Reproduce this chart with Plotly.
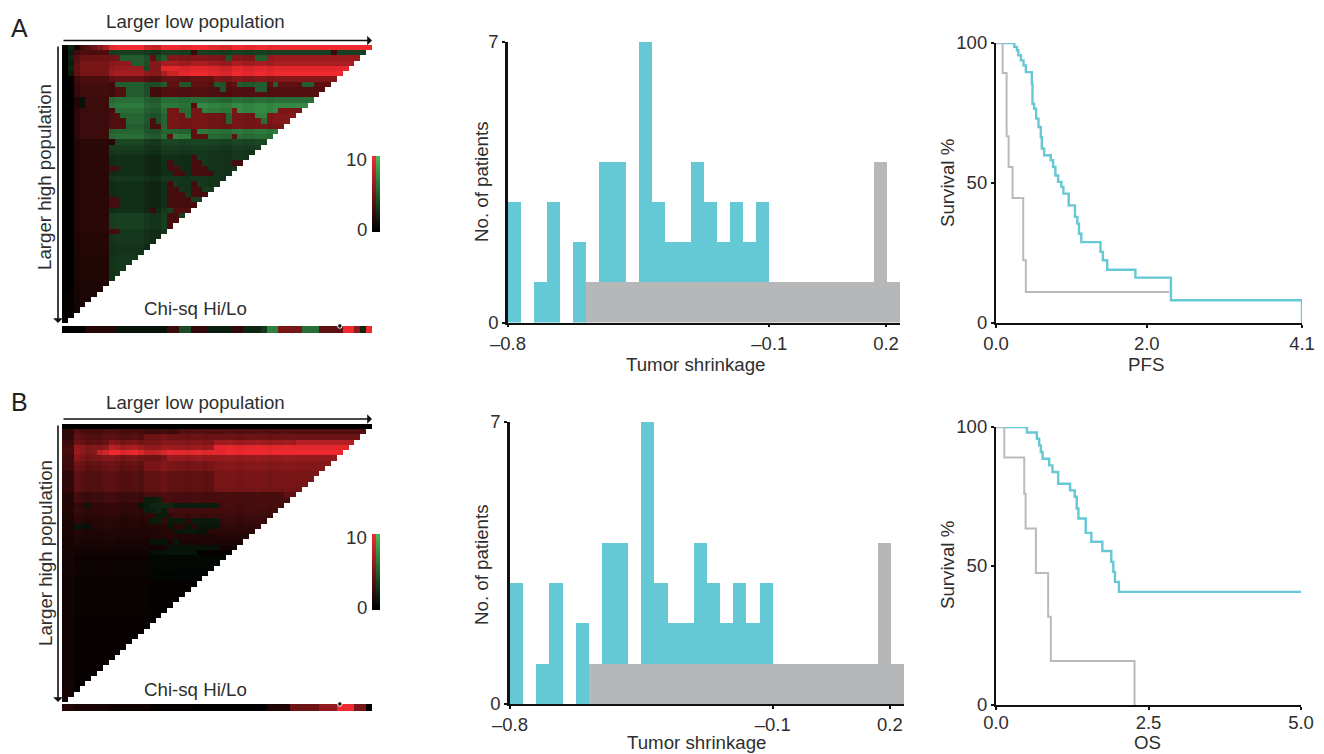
import plotly.graph_objects as go

W, H = 1324, 754
N = 53
FONT = "Liberation Sans"
TXT = "#2e2e2e"
CYAN = "#65c8d5"
GRAY = "#b6b7b9"
LINE_GRAY = "#b9babc"

# ---------- histogram data (shared by both rows) ----------
BIN_LEFT = [-0.8, -0.765, -0.73, -0.695, -0.66, -0.625, -0.59, -0.555, -0.52, -0.485,
            -0.45, -0.415, -0.38, -0.345, -0.31, -0.275, -0.24, -0.205, -0.17, -0.135,
            -0.1, -0.065, -0.03, 0.005, 0.04, 0.075, 0.11, 0.145, 0.18, 0.215]
LOW_COUNTS = [0, 0, 0, 0, 0, 0, 1, 1, 1, 1, 1, 1, 1, 1, 1, 1, 1, 1, 1, 1,
              1, 1, 1, 1, 1, 1, 1, 1, 4, 1]
HIGH_COUNTS = [3, 0, 1, 3, 0, 2, 0, 3, 3, 0, 6, 2, 1, 1, 3, 2, 1, 2, 1, 2,
               0, 0, 0, 0, 0, 0, 0, 0, 0, 0]

# ---------- survival data ----------
PFS_HI_T = [0, 0.245, 0.28, 0.30, 0.334, 0.369, 0.40, 0.48, 0.489, 0.511, 0.538, 0.569, 0.60,
            0.614, 0.645, 0.734, 0.765, 0.796, 0.832, 0.876, 0.903, 0.974, 1.058, 1.09, 1.112,
            1.143, 1.40, 1.432, 1.49, 1.868, 2.344, 4.10]
PFS_HI_S = [100, 98.6, 97.4, 95.6, 93.8, 92, 89.6, 85.5, 78.3, 76.5, 73, 70, 66.4,
            62.3, 59.9, 58.1, 55.7, 52.7, 50.4, 48.6, 46.2, 42, 37.9, 35.5, 31.9,
            28.9, 25.4, 22.4, 19, 16.2, 8.1, 0]
PFS_LO_T = [0, 0.089, 0.142, 0.169, 0.222, 0.365, 0.40, 2.32]
PFS_LO_S = [100, 89.3, 66.7, 55.7, 44.6, 22.4, 11.1, 11.1]
OS_HI_T = [0, 0.507, 0.67, 0.708, 0.735, 0.763, 0.872, 0.926, 1.019, 1.215, 1.291, 1.324, 1.351,
           1.471, 1.563, 1.743, 1.89, 1.923, 1.95, 2.015, 5.0]
OS_HI_S = [100, 98, 95.8, 93.4, 91, 88.6, 86.2, 83.8, 79.6, 77.2, 74.9, 70.7, 67.1,
           61.9, 58.7, 55.4, 51.5, 47.9, 44.3, 40.7, 40.7]
OS_LO_T = [0, 0.136, 0.463, 0.485, 0.654, 0.855, 0.899, 2.271, 2.271]
OS_LO_S = [100, 89, 76, 63.5, 47.5, 31.7, 15.8, 15.8, 0]

# ---------- X-tile heat maps: each row is runs of (end column, signed chi-square) ----------
A_ROWS = [
 [(1,-.5),(2,-2),(3,1),(4,2.5),(5,3.5),(6,4.5),(7,5.5),(8,7),(53,10)],
 [(1,0),(2,-1.5),(8,3.2),(22,-3.5),(23,2.5),(46,-3.5),(47,2.5),(53,-3.5)],
 [(1,0),(2,-2),(8,4.5),(10,5),(15,-5),(16,5),(18,-5),(28,5.5),(29,-5),(33,5.5),(35,-5),(53,6.5)],
 [(1,0),(2,-1.5),(8,5),(12,6),(15,-5),(53,7)],
 [(1,0),(2,-2),(8,5),(14,6.5),(15,-4.5),(17,7),(53,9.5)],
 [(1,0),(2,-1.5),(8,5),(18,7),(20,8.5),(53,10)],
 [(2,0),(8,3.2),(26,4.2),(53,5.5)],
 [(2,0),(9,2.8),(18,-5),(20,4),(22,-5),(26,4),(28,-5),(30,4),(35,-5),(36,4),(37,-5),(41,4),(43,-5),(53,4)],
 [(2,0),(9,2.8),(11,3.5),(15,-5),(27,3.5),(28,-5),(33,3.5),(35,-5),(53,3.5)],
 [(2,0),(9,2.8),(11,3.5),(15,-5),(53,3.5)],
 [(2,0),(3,1.8),(4,-1),(8,2.5),(53,-6)],
 [(2,0),(3,1.8),(4,-1),(8,2.5),(22,-6.5),(23,3.5),(53,-7.5)],
 [(2,0),(8,2.5),(9,3),(18,-6),(20,5),(22,-6),(24,5),(29,-7),(30,5),(37,-7.5),(53,5)],
 [(2,0),(8,2.5),(10,3.5),(18,-5.5),(21,5),(22,-6),(28,5),(29,-6),(33,5),(35,-7),(53,5.5)],
 [(2,0),(8,2.5),(11,3.5),(15,-5.5),(16,4),(18,-5.5),(28,5),(29,-6),(34,5),(35,-6),(53,5.5)],
 [(2,0),(8,2.5),(11,3.5),(15,-5),(17,4),(18,-5.5),(53,5)],
 [(2,0),(8,2.5),(22,-5.5),(23,4),(53,-6.5)],
 [(2,0),(8,2.5),(18,-6),(19,4),(22,-7),(25,4),(29,-6),(30,4),(53,-6)],
 [(2,0),(9,1.8),(53,-3.8)],
 [(2,0),(8,1.8),(53,-3.3)],
 [(2,0),(8,1.8),(53,-3)],
 [(2,0),(8,1.8),(22,-2.5),(23,3),(53,-3)],
 [(2,0),(8,1.8),(18,-2.5),(19,3),(22,-2.5),(24,3),(29,-3),(31,3),(53,-3)],
 [(2,0),(8,1.8),(10,3),(18,-2.5),(20,3),(22,-2.5),(25,3),(53,-3)],
 [(2,0),(8,1.8),(19,-2.5),(21,3),(22,-2.5),(26,3),(53,-3)],
 [(2,0),(8,1.8),(53,-3)],
 [(2,0),(8,1.8),(18,-2.5),(19,3),(22,-3),(23,3),(53,-3)],
 [(2,0),(8,1.8),(18,-2.5),(20,3),(22,-3),(24,3),(53,-3.5)],
 [(2,0),(8,1.8),(18,-2.5),(21,3),(22,-3),(25,3),(53,-3.5)],
 [(2,0),(8,1.8),(10,3),(18,-2.5),(22,3),(23,-3.5),(53,-3.5)],
 [(2,0),(8,1.8),(10,3),(18,-2.5),(23,3),(53,-3.5)],
 [(2,0),(8,1.8),(15,-2.5),(16,3),(18,-3),(19,-3.5),(53,3.5)],
 [(2,0),(8,1.8),(18,-3.5),(20,3),(53,-3.5)],
 [(2,0),(8,1.8),(18,-3.5),(53,3)],
 [(2,0),(8,1.8),(18,-3.5),(53,3)],
 [(2,0),(8,1.8),(10,3),(53,-3)],
 [(2,0),(8,1.6),(53,-3)],
 [(2,0),(8,1.6),(53,-3)],
 [(2,0),(8,1.6),(53,-2.7)],
 [(2,0),(8,1.6),(53,-2.7)],
 [(2,0),(8,1.4),(53,-3)],
 [(2,0),(8,1.4),(53,-3)],
 [(2,0),(8,1.4),(53,-3)],
 [(2,0),(8,1.4),(53,-3)],
 [(2,0),(8,1.4),(53,-3)],
 [(2,0),(8,1.2)],
 [(2,0),(8,1.2)],
 [(2,.2),(8,1.2)],
 [(2,.2),(8,1.2)],
 [(2,.2),(8,1.1)],
 [(2,.2),(8,1.1)],
 [(2,.2),(8,1.1)],
 [(2,.2),(8,1.1)],
]
B_ROWS = [
 [(53,0)],
 [(2,2),(14,3),(20,2.5),(53,3.5)],
 [(2,2),(14,3.5),(53,4.5)],
 [(2,2.5),(8,4),(18,5),(26,5.5),(40,6.5),(53,7.5)],
 [(2,3),(8,5.5),(14,7),(18,6),(26,6.5),(53,9.5)],
 [(2,3),(6,5.5),(8,8),(14,9.5),(18,8),(28,9.5),(53,10)],
 [(2,2.5),(14,5),(18,4.5),(53,6.2)],
 [(2,2.5),(14,4.2),(26,5),(53,5.5)],
 [(2,2.5),(14,4),(26,5),(53,5.5)],
 [(2,2),(14,3.5),(26,4),(53,5)],
 [(2,2),(14,3.5),(26,4),(53,5)],
 [(2,2),(14,3.5),(26,4),(53,5)],
 [(2,2),(14,3.5),(26,4),(53,4.8)],
 [(2,1.5),(14,2.5),(38,3),(53,4)],
 [(2,1.5),(14,2.5),(16,-1.5),(17,-1.8),(18,2.5),(53,3)],
 [(2,1.5),(4,1.8),(5,-1.2),(13,2),(14,-1.2),(15,-1.5),(19,-2),(27,-1.6),(53,3)],
 [(2,1.5),(14,2),(16,-1.6),(17,-2),(18,-1.5),(53,2.8)],
 [(2,1.2),(14,1.8),(16,2),(18,-1.4),(19,2),(53,2.5)],
 [(2,1.2),(15,1.6),(16,-1.4),(17,-1.4),(18,2),(19,-1.4),(21,-1.4),(22,2),(24,-1.4),(27,-1.4),(53,2.3)],
 [(2,1.1),(5,-1),(15,1.5),(18,1.5),(19,-1.2),(21,1.8),(22,-1.2),(23,1.8),(27,-1.2),(53,2)],
 [(2,1.1),(15,1.3),(19,1.5),(21,-1.2),(23,-1.3),(25,-1),(53,1.8)],
 [(2,1),(15,1.2),(18,1.3),(20,1.6),(23,1.5),(26,1.3),(53,1.5)],
 [(2,1),(15,1),(18,-1),(19,1.2),(20,-1.2),(21,1.2),(23,1.2),(53,1.2)],
 [(2,1),(15,.9),(18,.7),(20,-1),(21,-1),(24,-1),(27,-1),(53,.8)],
 [(2,1),(15,.7),(18,-.8),(21,-1),(23,-1),(53,.3)],
 [(2,.9),(15,.5),(53,-.4)],
 [(2,.9),(15,.5),(53,-.4)],
 [(2,.9),(15,.5),(53,-.4)],
 [(2,.8),(15,.5),(53,-.3)],
 [(2,.8),(15,.4),(53,-.3)],
 [(2,.8),(15,.4),(53,.2)],
 [(2,.8),(15,.4),(53,.2)],
 [(2,.8),(15,.4),(53,.2)],
 [(2,.8),(15,.4),(53,.2)],
 [(2,.8),(15,.4),(53,.2)],
 [(2,.8),(15,.4),(53,.2)],
 [(2,.8),(15,.3),(53,.2)],
 [(2,.8),(15,.3),(53,.2)],
 [(2,.8),(15,.3),(53,.2)],
 [(2,.8),(15,.3),(53,.2)],
 [(2,.8),(15,.3),(53,.2)],
 [(2,.8),(15,.3),(53,.2)],
 [(2,.8),(15,.3),(53,.2)],
 [(2,.8),(15,.3),(53,.2)],
 [(2,.8),(15,.3),(53,.2)],
 [(2,.8),(15,.3),(53,.2)],
 [(2,.8),(15,.3),(53,.2)],
 [(2,.8),(15,.3),(53,.2)],
 [(2,.8),(15,.3),(53,.2)],
 [(2,.9),(15,.3),(53,.2)],
 [(2,.9),(15,.3),(53,.2)],
 [(2,1),(15,.3),(53,.2)],
 [(2,1),(15,.3),(53,.2)],
]
A_STRIP = [(4,0),(9,1.5),(18,-1),(20,2.5),(22,-4),(25,2),(29,-1.5),(31,2),(34,-2),(35,-3),(37,-7),(41,5),(44,-6),(48,4),(50,10),(51,6),(52,-2),(53,10)]
B_STRIP = [(2,1.5),(8,1),(15,.7),(22,.3),(35,.1),(39,1.2),(44,4.5),(47,6),(50,10),(52,5),(53,0)]
A_COL_GAIN = [1, 1, .8, 1, 1, 1, 1, 1, .95, 1, 1, 1, 1, 1, .85, .8, .8, 1, 1, 1, .95, .95, 1, 1, 1, .95, .95,
              .9, .9, 1, 1, .95, .95, 1, 1, .95, 1, 1, 1, 1, 1, 1, 1, 1, 1, 1, 1, 1, 1, 1, 1, 1, 1]
B_COL_GAIN = [1, 1, 1.15, 1.05, .95, 1, 1, 1.1, 1.12, 1.05, .95, 1, 1.05, .95, 1, 1, 1.03, 1.12, 1.03, 1, 1, .97, 1, 1.03, .97, 1, 1,
              1, 1.03, 1, .97, 1, 1, 1.03, 1, .97, 1, 1, 1.03, 1, 1, 1, 1, 1, 1, 1, 1, 1, 1, 1, 1, 1, 1]
LEGEND_LEVELS = [0, .5, 1, 1.5, 2, 2.5, 3, 3.5, 4, 4.5, 5, 5.5, 6, 6.5, 7, 7.5, 8, 8.5, 9, 9.5, 10]

COLORSCALE = [[0, "#45b85c"], [0.5, "#000000"], [1, "#ee2a2e"]]
SIZE = 18.7
TICK_SIZE = 18.5


def fx(a, b):
    return [a / W, b / W]


def fy(top, bottom):
    return [1 - bottom / H, 1 - top / H]


def expand(runs, length):
    out, start = [], 0
    for end, val in runs:
        out += [val] * max(0, min(end, length) - start)
        start = end
    return out


def triangle(rows, gain):
    z = []
    for r, runs in enumerate(rows):
        n = N - r
        cells = expand(runs, n)
        cells = [v * g for v, g in zip(cells, gain)]
        z.append(cells + [None] * (N - n))
    return z


fig = go.Figure()
layout = {}
ax_id = [0]


def new_axes(xdom, ydom, xcfg=None, ycfg=None):
    ax_id[0] += 1
    i = ax_id[0]
    xa, ya = f"xaxis{i}", f"yaxis{i}"
    base = dict(visible=False, fixedrange=True, automargin=False)
    layout[xa] = {**base, "domain": xdom, "anchor": f"y{i}", **(xcfg or {})}
    layout[ya] = {**base, "domain": ydom, "anchor": f"x{i}", **(ycfg or {})}
    return f"x{i}", f"y{i}"


def heat(x, y, z, xvals=None, yvals=None):
    fig.add_trace(go.Heatmap(z=z, x=xvals, y=yvals, xaxis=x, yaxis=y, zmin=-10, zmax=10, colorscale=COLORSCALE,
                             showscale=False, xgap=0, ygap=0, hoverongaps=False))


def text(s, px, py, size=SIZE, angle=0, anchor="center", color=TXT):
    layout.setdefault("annotations", []).append(dict(
        text=s, x=px / W, y=1 - py / H, xref="paper", yref="paper", showarrow=False,
        xanchor=anchor, yanchor="middle", textangle=angle, font=dict(size=size, family=FONT, color=color)))


def arrow(x0, y0, x1, y1):
    layout.setdefault("annotations", []).append(dict(
        x=x1 / W, y=1 - y1 / H, ax=x0 - x1, ay=y0 - y1, xref="paper", yref="paper", axref="pixel", ayref="pixel",
        text="", showarrow=True, arrowhead=1, arrowsize=1, arrowwidth=1.6, arrowcolor="#111111"))


def xtile_panel(rows, gain, strip, top, strip_top, legend_top, legend_bottom, arrow_y, label_y, side_y, chi_y):
    x, y = new_axes(fx(62, 372), fy(top, top + 278),
                    dict(range=[-0.5, N - 0.5]), dict(range=[N - 0.5, -0.5]))
    heat(x, y, triangle(rows, gain))
    # Chi-sq strip
    x, y = new_axes(fx(62, 372), fy(strip_top, strip_top + 7),
                    dict(range=[-0.5, N - 0.5]), dict(range=[-0.5, 0.5]))
    heat(x, y, [expand(strip, N)])
    fig.add_trace(go.Scatter(x=[47], y=[0.5], xaxis=x, yaxis=y, mode="markers", cliponaxis=False, showlegend=False,
                             marker=dict(size=4.5, color="#111111", line=dict(color="white", width=1))))
    # Colour key
    x, y = new_axes(fx(372, 380), fy(legend_top, legend_bottom),
                    dict(range=[-0.5, 1.5]), dict(range=[-0.25, 10.25]))
    heat(x, y, [[v, -v] for v in LEGEND_LEVELS], xvals=[0, 1], yvals=LEGEND_LEVELS)
    text("10", 369, legend_top + 3, anchor="right")
    text("0", 369, legend_bottom - 3, anchor="right")
    arrow(62, arrow_y, 372, arrow_y)
    arrow(58, top, 58, top + 278)
    text("Larger low population", 196, label_y)
    text("Larger high population", side_y[0], side_y[1], angle=-90)
    text("Chi-sq Hi/Lo", 196, chi_y)


def axis_common(**kw):
    return dict(visible=True, showgrid=False, zeroline=False, showline=True, linecolor="#111111",
                ticks="outside", ticklen=3, tickwidth=1.5, tickcolor="#111111", tickangle=0,
                tickfont=dict(size=TICK_SIZE, family=FONT, color=TXT), **kw)


def hist_panel(left, right, top, bottom, xlabel_pos, ylabel_pos):
    x, y = new_axes(fx(left, right), fy(top, bottom),
                    axis_common(range=[-0.8, 0.25], tickvals=[-0.8, -0.1, 0.2125], ticktext=["–0.8", "–0.1", "0.2"], linewidth=1.8),
                    axis_common(range=[0, 7], tickvals=[0, 7], ticktext=["0", "7"], linewidth=2.6))
    fig.add_trace(go.Bar(x=BIN_LEFT, y=LOW_COUNTS, width=0.035, offset=0, xaxis=x, yaxis=y, marker=dict(color=GRAY, line=dict(width=0)),
                         showlegend=False))
    fig.add_trace(go.Bar(x=BIN_LEFT, y=HIGH_COUNTS, width=0.035, offset=0, xaxis=x, yaxis=y, marker=dict(color=CYAN, line=dict(width=0)),
                         showlegend=False))
    text("Tumor shrinkage", *xlabel_pos)
    text("No. of patients", *ylabel_pos, angle=-90)


def surv_panel(left, right, top, bottom, xmax, tickvals, ticktext, xtitle, hi, lo, xlabel_pos, ylabel_pos, label_shift=0):
    x, y = new_axes(fx(left, right), fy(top, bottom),
                    axis_common(range=[0, xmax], tickvals=tickvals, ticktext=ticktext, linewidth=1.8,
                                ticklabelstandoff=label_shift),
                    axis_common(range=[0, 100], tickvals=[0, 50, 100], ticktext=["0", "50", "100"], linewidth=2.2))
    fig.add_trace(go.Scatter(x=hi[0], y=hi[1], xaxis=x, yaxis=y, mode="lines", line=dict(shape="hv", color=CYAN, width=2.4),
                             showlegend=False, cliponaxis=False))
    fig.add_trace(go.Scatter(x=lo[0], y=lo[1], xaxis=x, yaxis=y, mode="lines", line=dict(shape="hv", color=LINE_GRAY, width=2),
                             showlegend=False, cliponaxis=False))
    text(xtitle, *xlabel_pos)
    text("Survival %", *ylabel_pos, angle=-90)


xtile_panel(A_ROWS, A_COL_GAIN, A_STRIP, 45, 326, 156, 232, 40.5, 21, (45, 177), 308)
xtile_panel(B_ROWS, B_COL_GAIN, B_STRIP, 424, 704, 534, 610, 419, 403, (45, 553), 689)
hist_panel(508, 900, 42, 322.5, (696, 365), (481, 182))
hist_panel(510, 904, 422, 704, (697, 742.5), (481, 565))
surv_panel(996, 1302, 43, 323, 4.1, [0, 2.02, 4.1], ["0.0", "2.0", "4.1"], "PFS", (PFS_HI_T, PFS_HI_S), (PFS_LO_T, PFS_LO_S), (1146, 365), (947, 183))
surv_panel(996, 1301, 427, 705, 5.0, [0, 2.5, 5.0], ["0.0", "2.5", "5.0"], "OS", (OS_HI_T, OS_HI_S), (OS_LO_T, OS_LO_S), (1147, 742.5), (947, 565), label_shift=-3)

text("A", 19, 28, size=25, color="#222222")
text("B", 19, 402, size=25, color="#222222")

fig.update_layout(width=W, height=H, margin=dict(l=0, r=0, t=0, b=0, autoexpand=False), paper_bgcolor="white", plot_bgcolor="white",
                  barmode="stack", bargap=0, showlegend=False, font=dict(family=FONT, color=TXT), **layout)
fig.write_html("out.html", config=dict(displayModeBar=False),
               post_script="document.body.style.margin='0';document.body.style.overflow='hidden';")
